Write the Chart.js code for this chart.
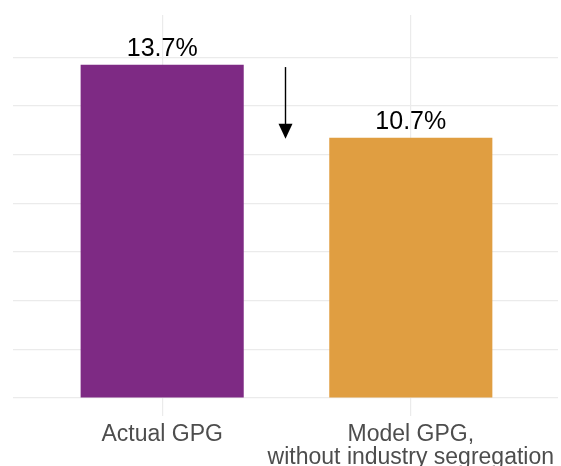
<!DOCTYPE html>
<html>
<head>
<meta charset="utf-8">
<script src="https://cdn.jsdelivr.net/npm/chart.js@4/dist/chart.umd.min.js"></script>
<style>
  html, body { margin: 0; padding: 0; background: #ffffff; }
  #wrap { width: 561px; height: 466px; }
</style>
</head>
<body>
<div id="wrap"><canvas id="gpg" width="561" height="466"></canvas></div>
<script>
// Gender pay gap: actual vs. modelled without industry segregation
const categories = [["Actual GPG"], ["Model GPG,", "without industry segregation"]];
const categoryPos = [1, 2];
const gapValues = [13.7, 10.7];
const barColors = ["#7E2A84", "#E09E41"];
const yGridValues = [0, 2, 4, 6, 8, 10, 12, 14];
// Arrow between the two bars (from / to, in % points)
const arrowFrom = 13.6;
const arrowTo = 10.65;

const points = categoryPos.map((x, i) => ({ x: x, y: gapValues[i] }));

const valueLabels = {
  id: 'valueLabels',
  afterDatasetsDraw(chart) {
    const ctx = chart.ctx;
    const meta = chart.getDatasetMeta(0);
    ctx.save();
    ctx.fillStyle = '#000000';
    ctx.font = '25px "Liberation Sans", Arial, sans-serif';
    ctx.textAlign = 'center';
    ctx.textBaseline = 'alphabetic';
    meta.data.forEach((bar, i) => {
      ctx.fillText(gapValues[i].toFixed(1) + '%', bar.x, bar.y - 9);
    });
    ctx.restore();
  }
};

const dropArrow = {
  id: 'dropArrow',
  afterDatasetsDraw(chart) {
    const ctx = chart.ctx;
    const xs = chart.scales.x, ys = chart.scales.y;
    const x = Math.round(xs.getPixelForValue(1.5)) - 0.5;
    const y0 = ys.getPixelForValue(arrowFrom);
    const y1 = ys.getPixelForValue(arrowTo);
    const headLen = 15, headHalf = 7;
    ctx.save();
    ctx.strokeStyle = '#000000';
    ctx.fillStyle = '#000000';
    ctx.lineWidth = 1.4;
    ctx.beginPath();
    ctx.moveTo(x, y0);
    ctx.lineTo(x, y1 - headLen + 1);
    ctx.stroke();
    ctx.beginPath();
    ctx.moveTo(x - headHalf, y1 - headLen);
    ctx.lineTo(x + headHalf, y1 - headLen);
    ctx.lineTo(x, y1);
    ctx.closePath();
    ctx.fill();
    ctx.restore();
  }
};

new Chart(document.getElementById('gpg'), {
  type: 'bar',
  data: {
    datasets: [{
      data: points,
      backgroundColor: barColors,
      borderWidth: 0,
      barPercentage: 0.656,
      categoryPercentage: 1.0
    }]
  },
  options: {
    responsive: false,
    animation: false,
    devicePixelRatio: 1,
    layout: { padding: { left: 13, right: 0, top: 15, bottom: 0 } },
    plugins: { legend: { display: false }, tooltip: { enabled: false } },
    scales: {
      x: {
        type: 'linear',
        offset: false,
        min: 0.4,
        max: 2.592,
        afterBuildTicks(scale) { scale.ticks = categoryPos.map(v => ({ value: v })); },
        afterFit(scale) { scale.height = 50; },
        grid: { color: '#EBEBEB', lineWidth: 1.2, drawTicks: false, offset: false },
        border: { display: false },
        ticks: {
          padding: 7,
          autoSkip: false,
          maxRotation: 0,
          minRotation: 0,
          color: '#4D4D4D',
          font: { family: '"Liberation Sans", Arial, sans-serif', size: 23, lineHeight: 1.0 },
          callback: (v) => categories[categoryPos.indexOf(v)] || ''
        }
      },
      y: {
        min: -0.74,
        max: 15.74,
        afterBuildTicks(scale) { scale.ticks = yGridValues.map(v => ({ value: v })); },
        afterFit(scale) { scale.width = 0; },
        grid: { color: '#EBEBEB', lineWidth: 1.2, drawTicks: false },
        border: { display: false },
        ticks: { display: false }
      }
    }
  },
  plugins: [valueLabels, dropArrow]
});
</script>
</body>
</html>
